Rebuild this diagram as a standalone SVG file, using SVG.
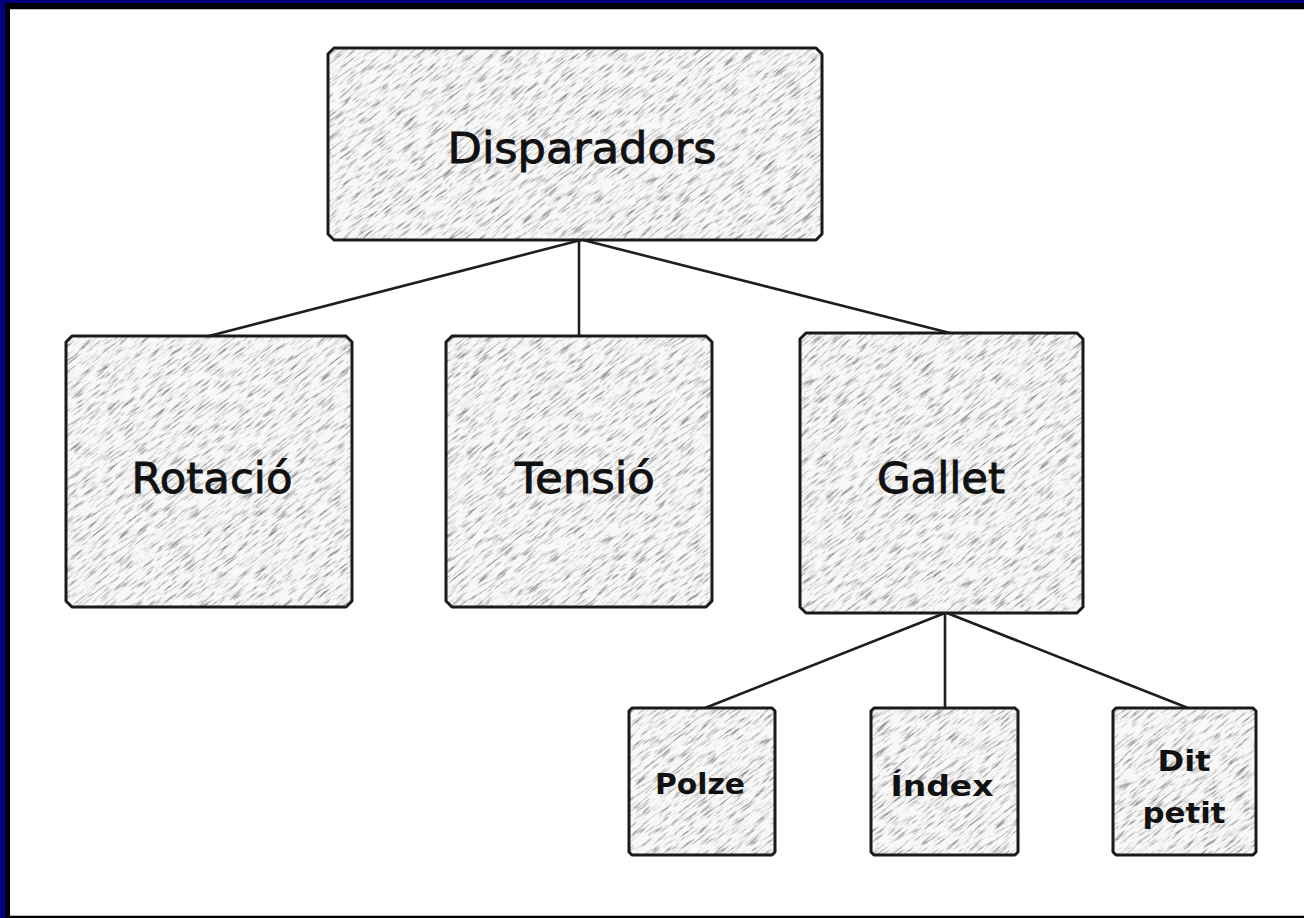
<svg xmlns="http://www.w3.org/2000/svg" width="1304" height="918" viewBox="0 0 1304 918">
<style>
.box{stroke:#1a1a1a;stroke-width:3;stroke-linejoin:round}
.paper{fill:url(#paper)}
.big{font-family:"Comic Sans MS","DejaVu Sans",sans-serif;font-size:43px;fill:#111;stroke:#111;stroke-width:0.9;text-anchor:middle}
.small{font-family:"Comic Sans MS","DejaVu Sans",sans-serif;font-size:29px;font-weight:bold;fill:#111;text-anchor:middle}
.conn{stroke:#1e1e1e;stroke-width:2.6;fill:none}
</style>
<defs>
<filter id="grain" x="0" y="0" width="100%" height="100%" color-interpolation-filters="sRGB">
<feTurbulence type="fractalNoise" baseFrequency="0.06 0.55" numOctaves="3" seed="7" stitchTiles="stitch"/>
<feColorMatrix type="matrix" values="0 0 0 0 0.35  0 0 0 0 0.35  0 0 0 0 0.35  2.4 0 0 0 -1.25"/>
</filter>
<pattern id="paper" patternUnits="userSpaceOnUse" width="256" height="256" patternTransform="rotate(-38)">
<rect width="256" height="256" fill="#f8f8f8"/>
<rect width="256" height="256" filter="url(#grain)"/>
</pattern>
</defs>
<rect width="1304" height="918" fill="#ffffff"/>
<g id="frame">
<rect x="0" y="0" width="1304" height="3" fill="#000080"/>
<rect x="0" y="0" width="5" height="918" fill="#000080"/>
<rect x="5" y="3" width="1299" height="6" fill="#000"/>
<rect x="5" y="3" width="5" height="915" fill="#000"/>
<rect x="10" y="9" width="1294" height="1" fill="#bbb"/>
<rect x="10" y="915" width="1294" height="1" fill="#bbb"/>
<rect x="10" y="916" width="1294" height="2" fill="#000"/>
</g>
<g id="connectors">
<line class="conn" x1="581" y1="240" x2="209" y2="336"/>
<line class="conn" x1="579" y1="240" x2="579" y2="336"/>
<line class="conn" x1="583" y1="240" x2="950" y2="333"/>
<line class="conn" x1="945" y1="613" x2="705" y2="708"/>
<line class="conn" x1="945" y1="613" x2="945" y2="708"/>
<line class="conn" x1="947" y1="613" x2="1188" y2="708"/>
</g>
<g id="node-disparadors">
<path class="box paper" d="M334,48 H816 L822,54 V234 L816,240 H334 L328,234 V54 Z"/>
<text class="big" x="582" y="163" textLength="269" lengthAdjust="spacingAndGlyphs">Disparadors</text>
</g>
<g id="node-rotacio">
<path class="box paper" d="M72,336 H346 L352,342 V601 L346,607 H72 L66,601 V342 Z"/>
<text class="big" x="212" y="493" textLength="161" lengthAdjust="spacingAndGlyphs">Rotació</text>
</g>
<g id="node-tensio">
<path class="box paper" d="M452,336 H706 L712,342 V601 L706,607 H452 L446,601 V342 Z"/>
<text class="big" x="585" y="493" textLength="140" lengthAdjust="spacingAndGlyphs">Tensió</text>
</g>
<g id="node-gallet">
<path class="box paper" d="M806,333 H1077 L1083,339 V607 L1077,613 H806 L800,607 V339 Z"/>
<text class="big" x="941" y="493" textLength="128" lengthAdjust="spacingAndGlyphs">Gallet</text>
</g>
<g id="node-polze">
<path class="box paper" d="M632,708 H772 L775,711 V852 L772,855 H632 L629,852 V711 Z"/>
<text class="small" x="700" y="794" textLength="90" lengthAdjust="spacingAndGlyphs">Polze</text>
</g>
<g id="node-index">
<path class="box paper" d="M874,708 H1015 L1018,711 V852 L1015,855 H874 L871,852 V711 Z"/>
<text class="small" x="942" y="796" textLength="103" lengthAdjust="spacingAndGlyphs">Índex</text>
</g>
<g id="node-dit-petit">
<path class="box paper" d="M1116,708 H1253 L1256,711 V852 L1253,855 H1116 L1113,852 V711 Z"/>
<text class="small" x="1184" y="771" textLength="53" lengthAdjust="spacingAndGlyphs">Dit</text>
<text class="small" x="1184" y="823" textLength="83" lengthAdjust="spacingAndGlyphs">petit</text>
</g>
</svg>
